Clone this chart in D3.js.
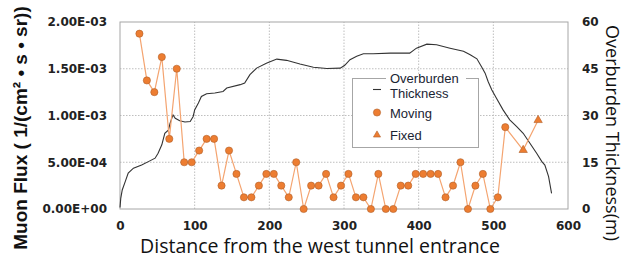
<!DOCTYPE html>
<html>
<head>
<meta charset="utf-8">
<script src="https://cdn.jsdelivr.net/npm/d3@7"></script>
<style>
  body { margin: 0; background: #fff; }
  svg { display: block; }
  .tick text { font-family: "DejaVu Sans", Verdana, sans-serif; font-weight: bold; font-size: 12px; fill: #222; }
</style>
</head>
<body>
<div id="chart"></div>
<script>
// moving detector: distance (m) and muon flux
var moving_dist = [26,36,46,56,66,76,86,96,106,116,126,136,146,156,166,176,186,196,206,216,
                   226,236,246,256,266,276,286,296,306,316,326,336,346,356,366,376,386,396,406,416,
                   426,436,446,456,466,476,486,496,506,516];
var moving_flux = [1.875e-3,1.375e-3,1.25e-3,1.625e-3,0.75e-3,1.5e-3,0.5e-3,0.5e-3,0.625e-3,0.75e-3,
                   0.75e-3,0.25e-3,0.625e-3,0.375e-3,0.125e-3,0.125e-3,0.25e-3,0.375e-3,0.375e-3,0.25e-3,
                   0.125e-3,0.5e-3,0,0.25e-3,0.25e-3,0.375e-3,0.125e-3,0.25e-3,0.375e-3,0.125e-3,
                   0.125e-3,0,0.375e-3,0,0,0.25e-3,0.25e-3,0.375e-3,0.375e-3,0.375e-3,
                   0.375e-3,0.125e-3,0.25e-3,0.5e-3,0,0.25e-3,0.375e-3,0,0.125e-3,0.875e-3];
// fixed detector
var fixed_dist = [540, 560];
var fixed_flux = [0.63e-3, 0.95e-3];
// overburden thickness profile (m)
var thick_dist = [0,1,3,7,11,18,29,38,47,51,56,60,65,67,71,74,80,87,94,98,100,105,109,116,127,138,
                  143,161,167,174,183,196,210,223,241,259,277,295,301,308,317,326,339,362,388,397,
                  411,424,442,460,469,478,484,489,493,498,504,513,522,531,540,549,558,565,569,574,578];
var thick_val  = [0.5,3.4,6.1,8.8,11.5,13.1,14.1,15.2,16.3,17.9,20.6,24.3,25.4,27.5,30.2,29.1,28.3,27.9,28.1,29.7,31.8,34,36.1,37,37.2,37.7,
                  38.8,39.9,40.4,43.1,45.2,46.8,48.1,47.7,46.5,45.5,45.1,45.2,46.1,47.9,49,49.8,49.8,50,50,51.6,
                  52.9,52.7,51.6,50.6,49.5,48.2,45.7,43.6,40.9,38.2,35.6,31.8,28.6,26.5,24.3,21.1,17.9,15.2,14.1,10.4,5];
var flux_ticks = [0, 0.5e-3, 1e-3, 1.5e-3, 2e-3];
var thick_ticks = [0, 15, 30, 45, 60];
var dist_ticks = [0, 100, 200, 300, 400, 500, 600];

var W = 624, H = 263;
var margin = { top: 22, right: 56, bottom: 54, left: 120 };
var orange = '#ED7D31';

var svg = d3.select('#chart').append('svg')
    .attr('width', W)
    .attr('height', H);

var x = d3.scaleLinear().domain([0, 600]).range([margin.left, W - margin.right]);
var yL = d3.scaleLinear().domain([0, 2e-3]).range([H - margin.bottom, margin.top]);
var yR = d3.scaleLinear().domain([0, 60]).range([H - margin.bottom, margin.top]);

function sci(v) {
    var s = v.toExponential(2).toUpperCase().split('E');
    var e = parseInt(s[1]);
    return s[0] + 'E' + (e < 0 ? '-' : '+') + String(Math.abs(e)).padStart(2, '0');
}

// grid
svg.append('g').selectAll('line')
    .data(flux_ticks.slice(1, -1))
    .enter().append('line')
    .attr('x1', x(0)).attr('x2', x(600))
    .attr('y1', d => yL(d)).attr('y2', d => yL(d))
    .attr('stroke', '#bfbfbf').attr('stroke-dasharray', '1.5,1.5');
svg.append('g').selectAll('line')
    .data(dist_ticks.slice(1, -1))
    .enter().append('line')
    .attr('y1', yL(0)).attr('y2', yL(2e-3))
    .attr('x1', d => x(d)).attr('x2', d => x(d))
    .attr('stroke', '#bfbfbf').attr('stroke-dasharray', '1.5,1.5');

// frame
svg.append('rect')
    .attr('x', x(0)).attr('y', yL(2e-3))
    .attr('width', x(600) - x(0)).attr('height', yL(0) - yL(2e-3))
    .attr('fill', 'none').attr('stroke', '#a6a6a6');

// axes
svg.append('g')
    .attr('transform', `translate(${x(0)},0)`)
    .call(d3.axisLeft(yL).tickValues(flux_ticks).tickFormat(sci).tickSize(0).tickPadding(13))
    .call(g => g.select('.domain').remove());
svg.append('g')
    .attr('transform', `translate(${x(600)},0)`)
    .call(d3.axisRight(yR).tickValues(thick_ticks).tickSize(0).tickPadding(14))
    .call(g => g.select('.domain').remove());
svg.append('g')
    .attr('transform', `translate(0,${yL(0)})`)
    .call(d3.axisBottom(x).tickValues(dist_ticks).tickSize(0).tickPadding(12))
    .call(g => g.select('.domain').remove());

// thickness line
var tline = d3.line().x(d => x(d[0])).y(d => yR(d[1]));
svg.append('path')
    .datum(d3.zip(thick_dist, thick_val))
    .attr('d', tline)
    .attr('fill', 'none')
    .attr('stroke', '#333')
    .attr('stroke-width', 1.1);

// flux line (moving then fixed)
var fline = d3.line().x(d => x(d[0])).y(d => yL(d[1]));
var all_pts = d3.zip(moving_dist, moving_flux).concat(d3.zip(fixed_dist, fixed_flux));
svg.append('path')
    .datum(all_pts)
    .attr('d', fline)
    .attr('fill', 'none')
    .attr('stroke', '#F4A470')
    .attr('stroke-width', 1.2);

svg.append('g').selectAll('circle')
    .data(d3.zip(moving_dist, moving_flux))
    .enter().append('circle')
    .attr('cx', d => x(d[0]))
    .attr('cy', d => yL(d[1]))
    .attr('r', 3.6)
    .attr('fill', orange)
    .attr('stroke', '#B0602A')
    .attr('stroke-width', 0.6);

var tri = d3.symbol().type(d3.symbolTriangle).size(30);
svg.append('g').selectAll('path')
    .data(d3.zip(fixed_dist, fixed_flux))
    .enter().append('path')
    .attr('d', tri)
    .attr('transform', d => `translate(${x(d[0])},${yL(d[1])})`)
    .attr('fill', orange)
    .attr('stroke', '#B0602A')
    .attr('stroke-width', 0.6);

// legend
var lg = svg.append('g');
lg.append('rect')
    .attr('x', 352.5).attr('y', 78.5).attr('width', 126).attr('height', 69)
    .attr('fill', '#fff').attr('stroke', '#a6a6a6');
lg.append('rect')
    .attr('x', 386).attr('y', 74).attr('width', 80).attr('height', 8)
    .attr('fill', '#fff');
lg.append('line')
    .attr('x1', 373).attr('x2', 381).attr('y1', 89.5).attr('y2', 89.5)
    .attr('stroke', '#333').attr('stroke-width', 1.1);
lg.append('circle')
    .attr('cx', 377).attr('cy', 112.5).attr('r', 3.6)
    .attr('fill', orange).attr('stroke', '#B0602A').attr('stroke-width', 0.6);
lg.append('path')
    .attr('d', d3.symbol().type(d3.symbolTriangle).size(22))
    .attr('transform', 'translate(377,135)')
    .attr('fill', orange).attr('stroke', '#B0602A').attr('stroke-width', 0.6);

var legend_lines = [['Overburden', 78], ['Thickness', 93], ['Moving', 113], ['Fixed', 135]];
lg.selectAll('text.lt')
    .data(legend_lines)
    .enter().append('text')
    .attr('class', 'lt')
    .attr('x', 390)
    .attr('y', d => d[1])
    .attr('dy', '0.35em')
    .attr('font-family', '"Liberation Sans", Arial, sans-serif')
    .attr('font-size', 13)
    .attr('fill', '#1a2433')
    .text(d => d[0]);

// axis titles
svg.append('text')
    .attr('transform', 'translate(20,128) rotate(-90)')
    .attr('text-anchor', 'middle')
    .attr('dy', '0.35em')
    .attr('font-family', '"Liberation Sans", Arial, sans-serif')
    .attr('font-size', 19)
    .attr('font-weight', 'bold')
    .attr('fill', '#111')
    .text('Muon Flux ( 1/(cm² • s • sr))');
svg.append('text')
    .attr('transform', 'translate(612,133) rotate(90)')
    .attr('text-anchor', 'middle')
    .attr('dy', '0.35em')
    .attr('font-family', '"Open Sans", "Liberation Sans", sans-serif')
    .attr('font-size', 18)
    .attr('fill', '#111')
    .text('Overburden Thickness(m)');
svg.append('text')
    .attr('x', 320)
    .attr('y', 246)
    .attr('text-anchor', 'middle')
    .attr('dy', '0.35em')
    .attr('font-family', '"Open Sans", "Liberation Sans", sans-serif')
    .attr('font-size', 19.5)
    .attr('fill', '#111')
    .text('Distance from the west tunnel entrance');
</script>
</body>
</html>
